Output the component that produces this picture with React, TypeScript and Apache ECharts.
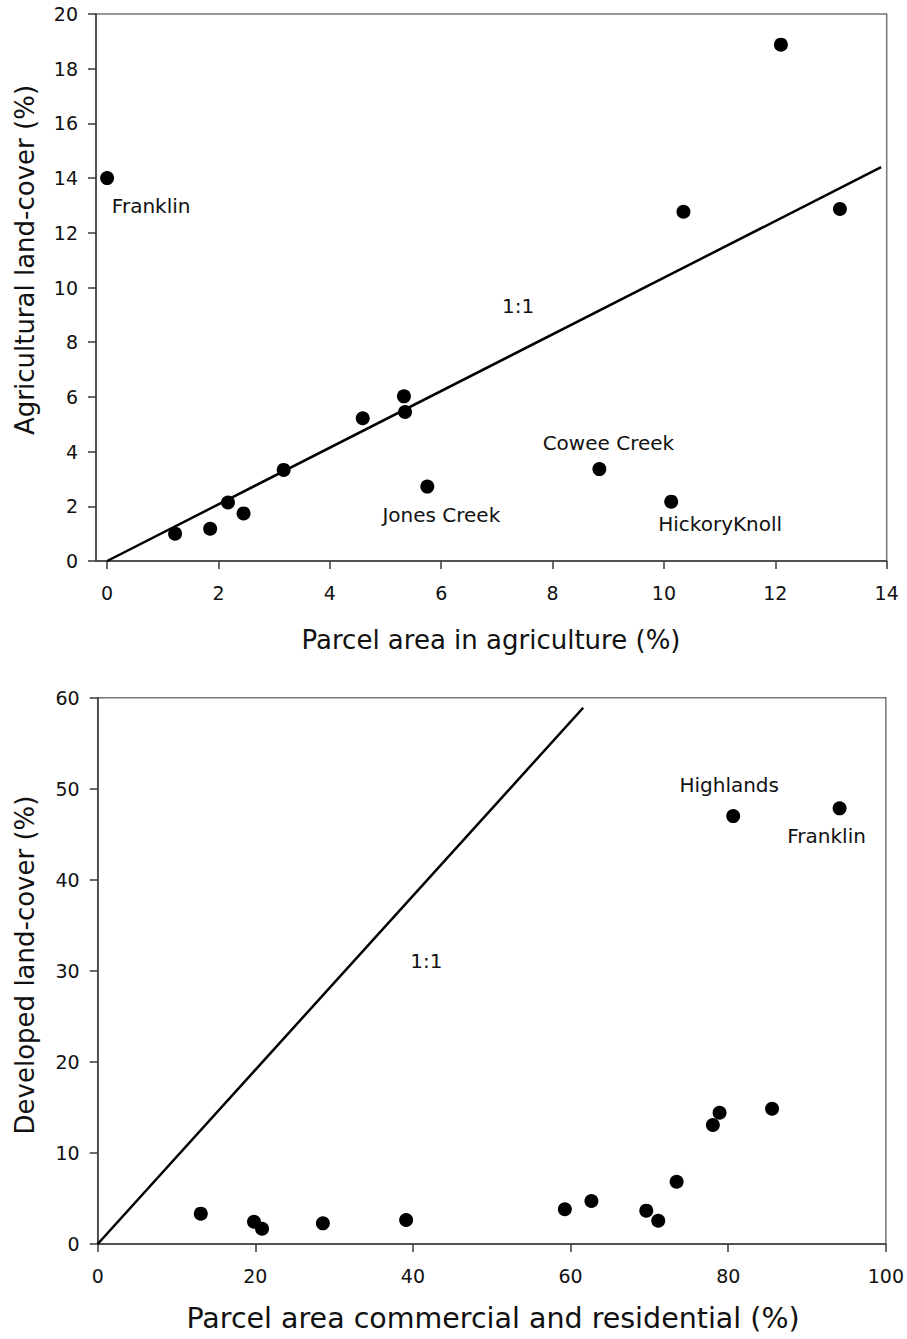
import React, { useEffect, useRef } from "react";
import * as echarts from "echarts";

// ---- Top panel: agriculture ----
const agX = [0, 1.22, 1.85, 2.17, 2.45, 3.17, 4.59, 5.33, 5.35, 5.75, 8.84, 10.13, 10.35, 12.1, 13.16];
const agY = [14.0, 1.0, 1.18, 2.14, 1.74, 3.33, 5.22, 6.02, 5.45, 2.72, 3.36, 2.17, 12.77, 18.88, 12.87];
const agNames = ["Franklin", "", "", "", "", "", "", "", "", "Jones Creek", "Cowee Creek", "HickoryKnoll", "", "", ""];
const agLineX = [0, 13.9];
const agLineY = [0, 14.4];
const agXTicks = [0, 2, 4, 6, 8, 10, 12, 14];
const agYTicks = [0, 2, 4, 6, 8, 10, 12, 14, 16, 18, 20];
const agXTitle = "Parcel area in agriculture (%)";
const agYTitle = "Agricultural land-cover (%)";
const agRatioLabel = { text: "1:1", x: 7.38, y: 9.32 };

// ---- Bottom panel: developed ----
const devX = [13.08, 19.83, 20.85, 28.57, 39.13, 59.27, 62.64, 69.6, 71.12, 73.45, 78.05, 78.9, 85.56, 80.63, 94.13];
const devY = [3.33, 2.45, 1.68, 2.27, 2.64, 3.81, 4.72, 3.66, 2.56, 6.84, 13.07, 14.42, 14.86, 47.0, 47.85];
const devNames = ["", "", "", "", "", "", "", "", "", "", "", "", "", "Highlands", "Franklin"];
const devLineX = [0, 61.6];
const devLineY = [0, 58.9];
const devXTicks = [0, 20, 40, 60, 80, 100];
const devYTicks = [0, 10, 20, 30, 40, 50, 60];
const devXTitle = "Parcel area commercial and residential (%)";
const devYTitle = "Developed land-cover (%)";
const devRatioLabel = { text: "1:1", x: 41.7, y: 31.1 };

const FONT = "DejaVu Sans";
const TXT = "#111";
const AXIS = "#3a3a3a";

const labelOffsets: Record<string, [number, number]> = {
  "0:Franklin": [44, 28],
  "0:Jones Creek": [14, 28],
  "0:Cowee Creek": [9, -26],
  "0:HickoryKnoll": [49, 22],
  "1:Highlands": [-4, -31],
  "1:Franklin": [-13, 28],
};

function pointData(xs: number[], ys: number[], names: string[], panel: number) {
  return xs.map((x, i) => {
    const n = names[i];
    if (!n) return { value: [x, ys[i]] };
    return {
      value: [x, ys[i]],
      label: {
        show: true,
        formatter: n,
        position: "inside",
        offset: labelOffsets[panel + ":" + n] || [0, 0],
        color: TXT,
        opacity: 1,
        fontFamily: FONT,
        fontSize: 20,
      },
    };
  });
}

function axisParts(ticks: number[], margin: number) {
  return {
    axisLine: { show: true, onZero: false, lineStyle: { color: AXIS, width: 1.5 } },
    axisTick: { show: true, length: 8, customValues: ticks, lineStyle: { color: AXIS, width: 1.5 } },
    axisLabel: { color: TXT, fontFamily: FONT, fontSize: 19, margin, customValues: ticks },
    splitLine: { show: false },
  };
}

export default function App() {
  const ref = useRef<HTMLDivElement>(null);

  useEffect(() => {
    if (!ref.current) return;
    const chart = echarts.init(ref.current, undefined, { renderer: "svg" });

    const ratioLabel = (l: { text: string; x: number; y: number }, xi: number) => ({
      type: "scatter", xAxisIndex: xi, yAxisIndex: xi,
      data: [[l.x, l.y]],
      symbolSize: 0,
      silent: true,
      label: { show: true, formatter: l.text, position: "inside", color: TXT, opacity: 1, fontFamily: FONT, fontSize: 20 },
    });

    const option: any = {
      animation: false,
      backgroundColor: "#fff",
      grid: [
        { left: 96, top: 14, width: 790.7, height: 547, show: true, borderColor: "#777", borderWidth: 1.5, containLabel: false },
        { left: 97.7, top: 697.7, width: 789.6, height: 546.3, show: true, borderColor: "#777", borderWidth: 1.5, containLabel: false },
      ],
      xAxis: [
        { type: "value", gridIndex: 0, min: -0.2, max: 14, ...axisParts(agXTicks, 22) },
        { type: "value", gridIndex: 1, min: 0, max: 100, ...axisParts(devXTicks, 22) },
      ],
      yAxis: [
        { type: "value", gridIndex: 0, min: 0, max: 20, interval: 2, ...axisParts(agYTicks, 18) },
        { type: "value", gridIndex: 1, min: 0, max: 60, interval: 10, ...axisParts(devYTicks, 18) },
      ],
      series: [
        {
          type: "line", xAxisIndex: 0, yAxisIndex: 0,
          data: agLineX.map((x, i) => [x, agLineY[i]]),
          showSymbol: false, symbol: "none",
          lineStyle: { color: "#000", width: 2.5 },
          silent: true,
        },
        {
          type: "scatter", xAxisIndex: 0, yAxisIndex: 0,
          data: pointData(agX, agY, agNames, 0),
          symbol: "circle", symbolSize: 14,
          itemStyle: { color: "#000", opacity: 1 },
        },
        ratioLabel(agRatioLabel, 0),
        {
          type: "line", xAxisIndex: 1, yAxisIndex: 1,
          data: devLineX.map((x, i) => [x, devLineY[i]]),
          showSymbol: false, symbol: "none",
          lineStyle: { color: "#000", width: 2.5 },
          silent: true,
        },
        {
          type: "scatter", xAxisIndex: 1, yAxisIndex: 1,
          data: pointData(devX, devY, devNames, 1),
          symbol: "circle", symbolSize: 14,
          itemStyle: { color: "#000", opacity: 1 },
        },
        ratioLabel(devRatioLabel, 1),
      ],
      graphic: [
        {
          type: "text", x: 491, y: 640,
          style: { text: agXTitle, fill: TXT, font: `26px "${FONT}"`, textAlign: "center", textVerticalAlign: "middle" },
        },
        {
          type: "text", x: 25, y: 260, rotation: Math.PI / 2,
          style: { text: agYTitle, fill: TXT, font: `26px "${FONT}"`, textAlign: "center", textVerticalAlign: "middle" },
        },
        {
          type: "text", x: 493, y: 1318,
          style: { text: devXTitle, fill: TXT, font: `28.5px "${FONT}"`, textAlign: "center", textVerticalAlign: "middle" },
        },
        {
          type: "text", x: 25, y: 965, rotation: Math.PI / 2,
          style: { text: devYTitle, fill: TXT, font: `26px "${FONT}"`, textAlign: "center", textVerticalAlign: "middle" },
        },
      ],
    };

    chart.setOption(option);
    return () => chart.dispose();
  }, []);

  return (
    <div
      ref={ref}
      style={{ position: "absolute", left: 0, top: 0, width: 907, height: 1339, background: "#fff" }}
    />
  );
}
